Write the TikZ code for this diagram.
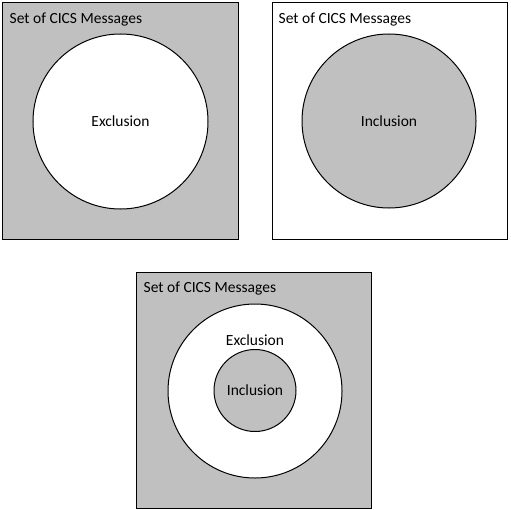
\documentclass[tikz,border=0pt]{standalone}
\usepackage{fontspec}
\setmainfont{Carlito}
\definecolor{setgray}{HTML}{C0C0C0}
\begin{document}
\begin{tikzpicture}[x=1bp,y=-1bp,
  setbox/.style={draw=black,line width=1bp,rectangle,inner sep=0pt,outer sep=0pt,minimum width=235bp,minimum height=236bp},
  region/.style={draw=black,line width=1bp,circle,inner sep=0pt,outer sep=0pt},
  lbl/.style={font=\fontsize{15.5bp}{18bp}\selectfont,inner sep=0pt}]
\useasboundingbox (0,0) rectangle (510,510);
% top left
\node[setbox,fill=setgray] (b1) at (120.5,121) {};
\node[region,fill=white,minimum size=175bp] (c1) at (120.5,121.5) {};
\node[lbl,anchor=base west] (t1) at (9.5,23.5) {Set of CICS Messages};
\node[lbl] (e1) at (c1.center) {Exclusion};
% top right
\node[setbox,fill=white] (b2) at (390,121) {};
\node[region,fill=setgray,minimum size=174bp] (c2) at (389,121) {};
\node[lbl,anchor=base west] (t2) at (278.5,23.5) {Set of CICS Messages};
\node[lbl] (i2) at (c2.center) {Inclusion};
% bottom
\node[setbox,fill=setgray,minimum height=236bp] (b3) at (254,390) {};
\node[region,fill=white,minimum size=174bp] (c3) at (255,391) {};
\node[region,fill=setgray,minimum size=82bp] (c4) at (255,390.5) {};
\node[lbl,anchor=base west] (t3) at (143.5,292.5) {Set of CICS Messages};
\node[lbl] (e3) at (255,340) {Exclusion};
\node[lbl] (i3) at (c4.center) {Inclusion};
\end{tikzpicture}
\end{document}
